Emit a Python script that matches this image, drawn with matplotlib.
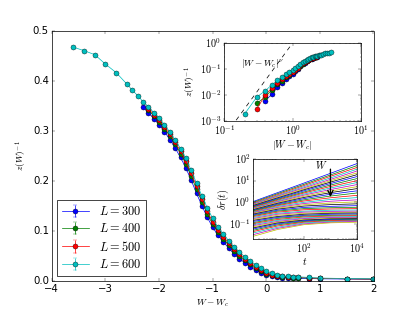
import matplotlib
matplotlib.use("Agg")
import matplotlib.pyplot as plt
from matplotlib.ticker import FixedLocator, FuncFormatter, LogLocator, NullFormatter
import numpy as np

# main panel: z(W)^-1 against W - Wc for four system sizes
SIZES = [300, 400, 500, 600]
COLORS = ["b", "g", "r", "c"]

W_300 = [-2.3, -2.2, -2.1, -2.0, -1.9, -1.8, -1.7, -1.6, -1.5, -1.4, -1.3, -1.2,
         -1.1, -1.0, -0.9, -0.8, -0.7, -0.6, -0.5, -0.4, -0.3, -0.2, -0.1, 0.0,
         0.1, 0.2, 0.3, 0.4, 0.5, 0.6, 0.8, 1.0, 1.5, 2.0]
Z_300 = [0.348, 0.337, 0.325, 0.313, 0.299, 0.283, 0.266, 0.247, 0.226, 0.201,
         0.175, 0.150, 0.127, 0.107, 0.091, 0.078, 0.065, 0.054, 0.044, 0.036,
         0.028, 0.021, 0.016, 0.012, 0.009, 0.0075, 0.0065, 0.006, 0.0055, 0.005,
         0.0045, 0.004, 0.0035, 0.003]

W_400 = [-2.2, -2.1, -2.0, -1.9, -1.8, -1.7, -1.6, -1.5, -1.4, -1.3, -1.2, -1.1,
         -1.0, -0.9, -0.8, -0.7, -0.6, -0.5, -0.4, -0.3, -0.2, -0.1, 0.0, 0.1,
         0.2, 0.3, 0.4, 0.5, 0.6, 0.8, 1.0, 1.5, 2.0]
Z_400 = [0.342, 0.331, 0.319, 0.305, 0.290, 0.274, 0.255, 0.234, 0.209, 0.183,
         0.158, 0.134, 0.113, 0.097, 0.084, 0.071, 0.060, 0.050, 0.041, 0.033,
         0.025, 0.019, 0.014, 0.011, 0.009, 0.008, 0.007, 0.0065, 0.006,
         0.0055, 0.005, 0.004, 0.0035]

W_500 = list(W_400)
Z_500 = [0.345, 0.333, 0.322, 0.308, 0.294, 0.278, 0.260, 0.239, 0.215, 0.189,
         0.163, 0.139, 0.118, 0.101, 0.088, 0.075, 0.063, 0.053, 0.044, 0.036,
         0.028, 0.021, 0.016, 0.012, 0.010, 0.009, 0.008, 0.0075, 0.007,
         0.006, 0.005, 0.004, 0.0035]

W_600 = [-3.6, -3.4, -3.2, -3.0, -2.8, -2.6, -2.5, -2.4, -2.3, -2.2, -2.1, -2.0,
         -1.9, -1.8, -1.7, -1.6, -1.5, -1.4, -1.3, -1.2, -1.1, -1.0, -0.9, -0.8,
         -0.7, -0.6, -0.5, -0.4, -0.3, -0.2, -0.1, 0.0, 0.1, 0.2, 0.3, 0.4, 0.5,
         0.6, 0.8, 1.0, 1.5, 2.0]
Z_600 = [0.468, 0.461, 0.453, 0.434, 0.417, 0.394, 0.382, 0.371, 0.359, 0.349,
         0.337, 0.326, 0.313, 0.298, 0.282, 0.265, 0.245, 0.221, 0.195, 0.170,
         0.146, 0.125, 0.107, 0.094, 0.080, 0.068, 0.057, 0.048, 0.040, 0.032,
         0.025, 0.019, 0.015, 0.012, 0.010, 0.009, 0.0085, 0.008, 0.0067,
         0.0055, 0.0045, 0.004]

Z_ERR = [0.002, 0.002, 0.002, 0.002]

# upper inset: z(W)^-1 - z(Wc)^-1 against |W - Wc| (W < Wc)
IN_X_300 = [0.4, 0.5, 0.6, 0.7, 0.8, 0.9, 1.0, 1.1, 1.2, 1.3, 1.4, 1.5, 1.6,
            1.7, 1.8, 1.9, 2.0, 2.1, 2.2, 2.3]
IN_Y_300 = [0.006, 0.011, 0.020, 0.030, 0.041, 0.053, 0.066, 0.082, 0.102,
            0.127, 0.153, 0.178, 0.200, 0.219, 0.236, 0.252, 0.266, 0.279,
            0.290, 0.300]
IN_X_400 = [0.3, 0.4, 0.5, 0.6, 0.7, 0.8, 0.9, 1.0, 1.1, 1.2, 1.3, 1.4, 1.5,
            1.6, 1.7, 1.8, 1.9, 2.0, 2.1, 2.2]
IN_Y_400 = [0.0048, 0.0085, 0.016, 0.026, 0.036, 0.048, 0.060, 0.074, 0.090,
            0.110, 0.134, 0.160, 0.184, 0.206, 0.225, 0.242, 0.257, 0.271,
            0.283, 0.295]
IN_X_500 = list(IN_X_400)
IN_Y_500 = [0.003, 0.010, 0.019, 0.029, 0.040, 0.052, 0.065, 0.078, 0.094,
            0.114, 0.138, 0.164, 0.188, 0.210, 0.229, 0.246, 0.261, 0.275,
            0.287, 0.298]
IN_X_600 = [0.2, 0.3, 0.4, 0.5, 0.6, 0.7, 0.8, 0.9, 1.0, 1.1, 1.2, 1.3, 1.4,
            1.5, 1.6, 1.7, 1.8, 1.9, 2.0, 2.1, 2.2, 2.3, 2.4, 2.5, 2.6, 2.8,
            3.0, 3.2, 3.4, 3.6]
IN_Y_600 = [0.0019, 0.0084, 0.0147, 0.025, 0.037, 0.049, 0.062, 0.075, 0.090,
            0.110, 0.133, 0.160, 0.186, 0.210, 0.232, 0.250, 0.266, 0.281,
            0.294, 0.305, 0.317, 0.327, 0.338, 0.350, 0.362, 0.385, 0.402,
            0.421, 0.429, 0.436]
NU = 3.6
GUIDE_X = [0.15, 1.0]

# lower inset: spreading delta r(t), one row per disorder W (increasing down)
T_VALUES = [1, 10, 100, 1000, 10000]
DELTA_R = [
    [1.00, 2.80, 7.8, 22.0, 62.0],
    [0.92, 2.50, 6.8, 18.5, 50.0],
    [0.85, 2.25, 6.0, 16.0, 41.0],
    [0.80, 2.05, 5.3, 13.5, 34.0],
    [0.75, 1.90, 4.7, 11.5, 28.0],
    [0.70, 1.75, 4.2, 10.0, 23.0],
    [0.66, 1.60, 3.8, 8.6, 19.0],
    [0.62, 1.48, 3.4, 7.4, 15.5],
    [0.58, 1.36, 3.0, 6.3, 12.5],
    [0.55, 1.25, 2.7, 5.4, 10.0],
    [0.52, 1.15, 2.4, 4.6, 8.2],
    [0.49, 1.06, 2.15, 3.9, 6.6],
    [0.46, 0.98, 1.90, 3.3, 5.3],
    [0.43, 0.90, 1.68, 2.8, 4.3],
    [0.40, 0.83, 1.48, 2.35, 3.4],
    [0.38, 0.76, 1.30, 1.95, 2.7],
    [0.35, 0.70, 1.15, 1.62, 2.1],
    [0.33, 0.64, 1.00, 1.35, 1.65],
    [0.31, 0.58, 0.88, 1.12, 1.30],
    [0.29, 0.53, 0.77, 0.93, 1.05],
    [0.27, 0.48, 0.67, 0.78, 0.85],
    [0.25, 0.43, 0.58, 0.65, 0.70],
    [0.23, 0.39, 0.51, 0.56, 0.59],
    [0.21, 0.35, 0.45, 0.49, 0.51],
    [0.19, 0.31, 0.39, 0.43, 0.44],
    [0.17, 0.28, 0.35, 0.38, 0.39],
    [0.155, 0.25, 0.31, 0.34, 0.35],
    [0.14, 0.22, 0.28, 0.31, 0.32],
    [0.125, 0.20, 0.25, 0.28, 0.29],
    [0.11, 0.18, 0.23, 0.25, 0.26],
    [0.10, 0.16, 0.21, 0.23, 0.24],
    [0.09, 0.145, 0.19, 0.21, 0.22],
    [0.08, 0.13, 0.175, 0.195, 0.20],
    [0.07, 0.12, 0.16, 0.18, 0.185],
    [0.062, 0.11, 0.15, 0.17, 0.175],
    [0.055, 0.10, 0.14, 0.16, 0.165],
    [0.048, 0.09, 0.13, 0.15, 0.155],
    [0.042, 0.08, 0.12, 0.14, 0.145],
    [0.036, 0.07, 0.11, 0.13, 0.14],
    [0.030, 0.062, 0.10, 0.12, 0.13],
    [0.025, 0.055, 0.092, 0.112, 0.12],
]
LINE_COLORS = ["b", "g", "r", "c", "m", "y", "k"]


def log_label(value, pos):
    return r"$10^{%d}$" % int(round(np.log10(value)))


def main():
    plt.style.use("classic")
    plt.rcParams["mathtext.fontset"] = "cm"
    plt.rcParams["font.size"] = 14
    plt.rcParams["figure.facecolor"] = "white"

    fig = plt.figure(figsize=(415 / 52, 6), dpi=52)
    ax = fig.add_axes([0.125, 0.1, 0.775, 0.8])

    main_x = [W_300, W_400, W_500, W_600]
    main_y = [Z_300, Z_400, Z_500, Z_600]
    for x, y, err, size, color in zip(main_x, main_y, Z_ERR, SIZES, COLORS):
        ax.errorbar(x, y, yerr=err, fmt="o-", color=color, mec="k", mew=0.5,
                    ms=7, lw=1.0, capsize=3, label=r"$L=%d$" % size)
    ax.set_xlim(-4, 2)
    ax.set_ylim(0, 0.5)
    ax.set_xlabel(r"$W-W_c$", fontsize=13)
    ax.set_ylabel(r"$z(W)^{-1}$", fontsize=13)
    ax.legend(loc="lower left", numpoints=1, fontsize=17, borderaxespad=0.4,
              handlelength=2.2, labelspacing=0.35)

    # upper inset
    ax1 = fig.add_axes([0.540, 0.612, 0.330, 0.250])
    inset_x = [IN_X_300, IN_X_400, IN_X_500, IN_X_600]
    inset_y = [IN_Y_300, IN_Y_400, IN_Y_500, IN_Y_600]
    for x, y, color in zip(inset_x, inset_y, COLORS):
        ax1.plot(x, y, "o-", color=color, mec="k", mew=0.5, ms=7, lw=1.0)
    guide = np.array(GUIDE_X)
    ax1.plot(guide, guide ** NU, "k--", lw=1.0)
    ax1.set_xscale("log")
    ax1.set_yscale("log")
    ax1.set_xlim(0.1, 10)
    ax1.set_ylim(1e-3, 1)
    ax1.xaxis.set_major_formatter(FuncFormatter(log_label))
    ax1.yaxis.set_major_formatter(FuncFormatter(log_label))
    ax1.set_xlabel(r"$|W-W_c|$", fontsize=14, labelpad=1)
    ax1.set_ylabel(r"$z(W)^{-1}$", fontsize=13, labelpad=2)
    ax1.text(0.36, 0.16, r"$|W-W_c|^{\nu}$", ha="center", va="center",
             fontsize=13)

    # lower inset
    ax2 = fig.add_axes([0.610, 0.234, 0.250, 0.256])
    for i, row in enumerate(DELTA_R):
        ax2.plot(T_VALUES, row, color=LINE_COLORS[i % len(LINE_COLORS)], lw=1.0)
    ax2.set_xscale("log")
    ax2.set_yscale("log")
    ax2.set_xlim(1.2, 1e4)
    ax2.set_ylim(0.02, 100)
    ax2.xaxis.set_major_locator(FixedLocator([1e2, 1e4]))
    ax2.xaxis.set_minor_locator(LogLocator(subs=np.arange(2, 10)))
    ax2.xaxis.set_minor_formatter(NullFormatter())
    ax2.xaxis.set_major_formatter(FuncFormatter(log_label))
    ax2.yaxis.set_major_locator(FixedLocator([1e-1, 1, 10, 100]))
    ax2.yaxis.set_major_formatter(FuncFormatter(log_label))
    ax2.set_xlabel(r"$t$", fontsize=14, labelpad=1)
    ax2.set_ylabel(r"$\delta r(t)$", fontsize=14, labelpad=-3)
    ax2.annotate("", xy=(1000, 1.5), xytext=(1000, 40),
                 arrowprops=dict(arrowstyle="->", lw=1.8, color="k",
                                 mutation_scale=18))
    ax2.text(470, 52, r"$W$", ha="center", va="center", fontsize=14)

    fig.savefig("out.png", dpi=52, facecolor="white")


if __name__ == "__main__":
    main()
